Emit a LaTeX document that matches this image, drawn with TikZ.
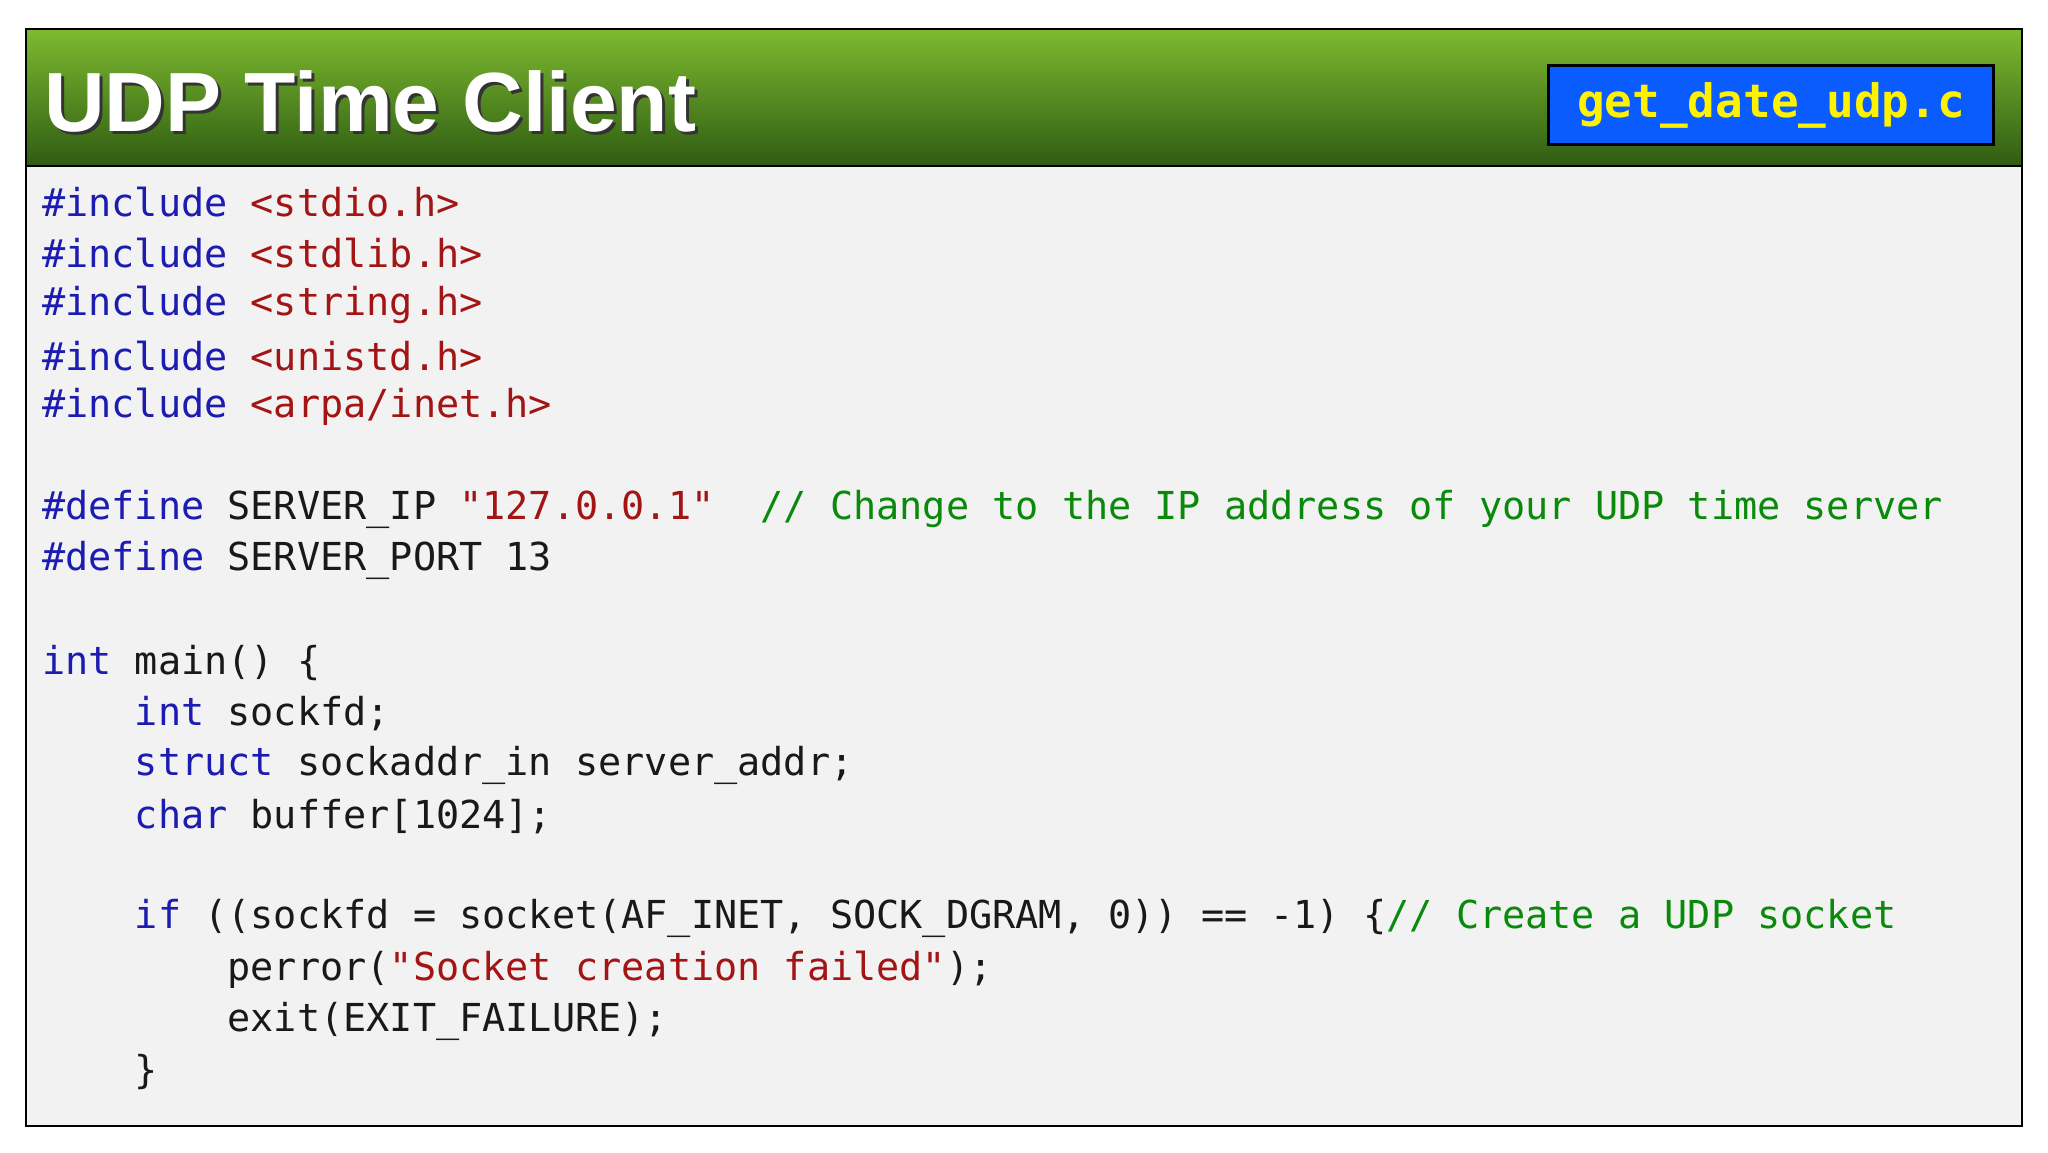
\documentclass[tikz,border=0pt]{standalone}
\usepackage{fontspec}
\setmainfont{Liberation Sans}
\setmonofont{DejaVu Sans Mono}
\definecolor{kwc}{HTML}{1C1CB0}
\definecolor{stc}{HTML}{A31515}
\definecolor{cmc}{HTML}{0A8A0A}
\definecolor{bgc}{HTML}{F2F2F2}
\definecolor{gtop}{HTML}{7EBA30}
\definecolor{gbot}{HTML}{2E5C12}
\definecolor{fnblue}{HTML}{0A5CFF}
\newcommand{\kw}[1]{\textcolor{kwc}{#1}}
\newcommand{\stq}[1]{\textcolor{stc}{#1}}
\newcommand{\cmq}[1]{\textcolor{cmc}{#1}}
\tikzset{codeline/.style={anchor=west,inner sep=0pt,font=\ttfamily\fontsize{38.5}{40}\selectfont,text=black!90}}
\begin{document}
\begin{tikzpicture}[x=1pt,y=-1pt]
\useasboundingbox (0,0) rectangle (2048,1152);
\fill[white] (0,0) rectangle (2048,1152);
\fill[bgc] (26,166) rectangle (2022,1126);
\shade[top color=gtop,bottom color=gbot] (26,29) rectangle (2022,166);
\draw[line width=2.5pt] (26,29) rectangle (2022,1126);
\draw[line width=2.5pt] (26,166) -- (2022,166);
\node[anchor=west,inner sep=0pt,text=black!80,font=\bfseries\fontsize{84}{90}\selectfont] at (47,104) {UDP Time Client};
\node (title) [anchor=west,inner sep=0pt,text=white,font=\bfseries\fontsize{84}{90}\selectfont] at (44,101) {UDP Time Client};
\node (fn) [draw=black,line width=2.5pt,fill=fnblue,minimum width=445,minimum height=79,text=yellow,font=\ttfamily\bfseries\fontsize{46}{50}\selectfont] at (1771,105) {get\_date\_udp.c};
\def\Y#1{202+51.2*#1}
\node (l0)  [codeline] at (42,{\Y{0}}) {\kw{\#include}\ \stq{<stdio.h>}};
\node (l1)  [codeline] at (42,{\Y{1}}) {\kw{\#include}\ \stq{<stdlib.h>}};
\node (l2)  [codeline] at (42,{\Y{2}}) {\kw{\#include}\ \stq{<string.h>}};
\node (l3)  [codeline] at (42,{\Y{3}}) {\kw{\#include}\ \stq{<unistd.h>}};
\node (l4)  [codeline] at (42,{\Y{4}}) {\kw{\#include}\ \stq{<arpa/inet.h>}};
\node (l6)  [codeline] at (42,{\Y{6}}) {\kw{\#define}\ SERVER\_IP\ \stq{"127.0.0.1"}\ \ \cmq{//\ Change\ to\ the\ IP\ address\ of\ your\ UDP\ time\ server}};
\node (l7)  [codeline] at (42,{\Y{7}}) {\kw{\#define}\ SERVER\_PORT\ 13};
\node (l9)  [codeline] at (42,{\Y{9}}) {\kw{int}\ main()\ \{};
\node (l10) [codeline] at (42,{\Y{10}}) {\ \ \ \ \kw{int}\ sockfd;};
\node (l11) [codeline] at (42,{\Y{11}}) {\ \ \ \ \kw{struct}\ sockaddr\_in\ server\_addr;};
\node (l12) [codeline] at (42,{\Y{12}}) {\ \ \ \ \kw{char}\ buffer[1024];};
\node (l14) [codeline] at (42,{\Y{14}}) {\ \ \ \ \kw{if}\ ((sockfd\ =\ socket(AF\_INET,\ SOCK\_DGRAM,\ 0))\ ==\ -1)\ \{\cmq{//\ Create\ a\ UDP\ socket}};
\node (l15) [codeline] at (42,{\Y{15}}) {\ \ \ \ \ \ \ \ perror(\stq{"Socket\ creation\ failed"});};
\node (l16) [codeline] at (42,{\Y{16}}) {\ \ \ \ \ \ \ \ exit(EXIT\_FAILURE);};
\node (l17) [codeline] at (42,{\Y{17}}) {\ \ \ \ \}};
\end{tikzpicture}
\end{document}
